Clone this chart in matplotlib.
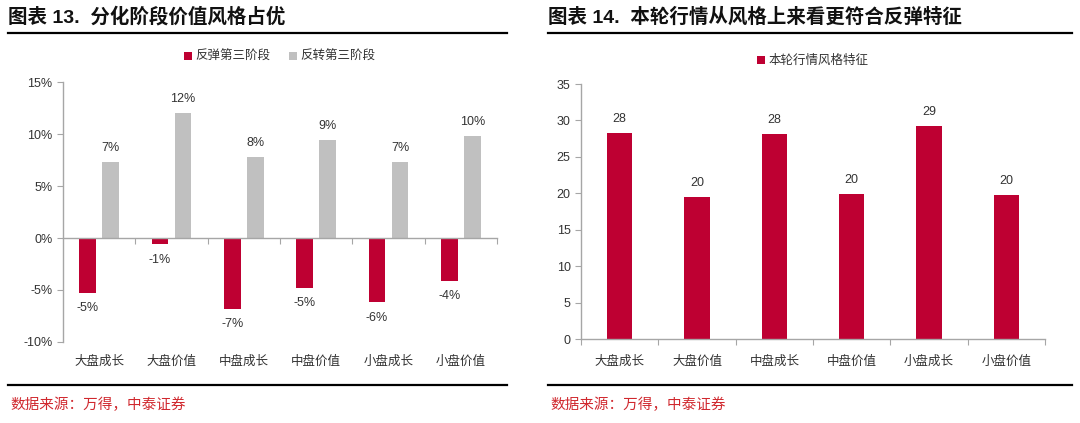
import matplotlib.pyplot as plt
import matplotlib.transforms as mtransforms
import numpy as np

plt.rcParams['font.family'] = ['Liberation Sans', 'Noto Sans CJK SC', 'DejaVu Sans']

categories = ['大盘成长', '大盘价值', '中盘成长', '中盘价值', '小盘成长', '小盘价值']
rebound_3 = [-5.3, -0.6, -6.8, -4.8, -6.2, -4.1]      # 反弹第三阶段 (%)
reversal_3 = [7.3, 12.0, 7.8, 9.4, 7.3, 9.8]          # 反转第三阶段 (%)
current = [28.3, 19.5, 28.1, 19.9, 29.3, 19.8]        # 本轮行情风格特征

RED = '#BE0032'
GRAY = '#C0C0C0'
AXC = '#A6A6A6'
TXT = '#333333'
FS = 9

W, H = 1080, 423
fig = plt.figure(figsize=(W / 100, H / 100), dpi=100)


def px_axes(x0, y0, x1, y1):
    # 像素坐标 (左上为原点) 转成 figure 坐标
    return fig.add_axes([x0 / W, 1 - y1 / H, (x1 - x0) / W, (y1 - y0) / H])


def style_axes(ax):
    for s in ['top', 'right']:
        ax.spines[s].set_visible(False)
    for s in ['left', 'bottom']:
        ax.spines[s].set_color(AXC)
        ax.spines[s].set_linewidth(1.0)
    ax.tick_params(axis='y', colors=AXC, labelcolor=TXT, labelsize=FS,
                   length=4, direction='out')
    ax.tick_params(axis='x', colors=AXC, labelcolor=TXT, labelsize=FS,
                   length=4, direction='out')


def header(x0, x1, title):
    fig.text(x0 / W, 1 - 17 / H, title, fontsize=14, fontweight='bold',
             color='#111111', va='center', ha='left')
    fig.add_artist(plt.Line2D([x0 / W, x1 / W], [1 - 33 / H] * 2,
                              color='black', lw=1.6))
    fig.add_artist(plt.Line2D([x0 / W, x1 / W], [1 - 385 / H] * 2,
                              color='black', lw=1.6))
    fig.text((x0 + 2) / W, 1 - 405 / H, '数据来源：万得，中泰证券', fontsize=10.5,
             color='#D0282E', va='center', ha='left')


x = np.arange(len(categories))

# ---------------- 左图 ----------------
ax1 = px_axes(63, 82, 497, 342)
style_axes(ax1)
bw = 0.23
b1 = ax1.bar(x - 0.16, rebound_3, bw, color=RED, label='反弹第三阶段', zorder=2)
b2 = ax1.bar(x + 0.16, reversal_3, bw, color=GRAY, label='反转第三阶段', zorder=2)
ax1.set_xlim(-0.5, len(categories) - 0.5)
ax1.set_ylim(-10, 15)
ax1.set_yticks(np.arange(-10, 16, 5))
ax1.set_yticklabels([f'{v}%' for v in range(-10, 16, 5)])
ax1.spines['bottom'].set_position(('data', 0))
ax1.set_xticks(np.arange(0.5, len(categories) - 0.5 + 0.01, 1.0))
ax1.set_xticklabels([])
trans = mtransforms.blended_transform_factory(ax1.transData, ax1.transAxes)
for i, c in enumerate(categories):
    ax1.text(i, -0.075, c, transform=trans, ha='center', va='center',
             fontsize=FS, color=TXT)
for rect, v in zip(b1, rebound_3):
    ax1.annotate(f'{v:.0f}%', (rect.get_x() + rect.get_width() / 2, v),
                 xytext=(0, -11), textcoords='offset points', ha='center',
                 va='center', fontsize=FS, color=TXT)
for rect, v in zip(b2, reversal_3):
    ax1.annotate(f'{v:.0f}%', (rect.get_x() + rect.get_width() / 2, v),
                 xytext=(0, 10), textcoords='offset points', ha='center',
                 va='center', fontsize=FS, color=TXT)
ax1.legend(loc='center', bbox_to_anchor=(0.5, 1 + 25 / 260), ncol=2,
           frameon=False, fontsize=FS, handlelength=0.6, handleheight=0.6,
           handletextpad=0.3, columnspacing=1.5, labelcolor=TXT)
header(8, 507, '图表 13.  分化阶段价值风格占优')

# ---------------- 右图 ----------------
ax2 = px_axes(581, 84, 1045, 339)
style_axes(ax2)
b3 = ax2.bar(x, current, 0.33, color=RED, label='本轮行情风格特征', zorder=2)
ax2.set_xlim(-0.5, len(categories) - 0.5)
ax2.set_ylim(0, 35)
ax2.set_yticks(np.arange(0, 36, 5))
ax2.set_xticks(np.arange(-0.5, len(categories) - 0.5 + 0.01, 1.0))
ax2.set_xticklabels([])
ax2.set_xticks(x, minor=True)
ax2.set_xticklabels(categories, minor=True)
ax2.tick_params(axis='x', which='minor', length=0, pad=12, labelsize=FS,
                labelcolor=TXT)
for rect, v in zip(b3, current):
    ax2.annotate(f'{v:.0f}', (rect.get_x() + rect.get_width() / 2, v),
                 xytext=(0, 10), textcoords='offset points', ha='center',
                 va='center', fontsize=FS, color=TXT)
ax2.legend(loc='center', bbox_to_anchor=(0.5, 1 + 23 / 255), frameon=False,
           fontsize=FS, handlelength=0.6, handleheight=0.6,
           handletextpad=0.3, labelcolor=TXT)
header(548, 1072, '图表 14.  本轮行情从风格上来看更符合反弹特征')

fig.savefig('out.png', dpi=100)
